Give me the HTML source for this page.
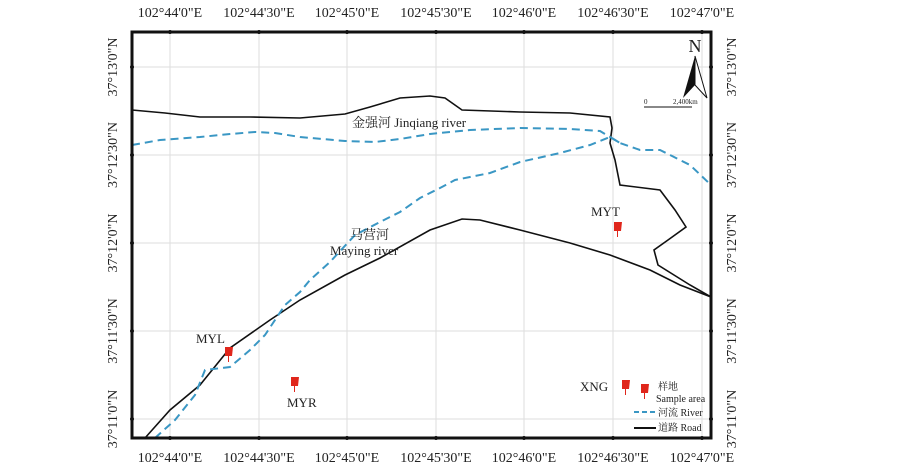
<!DOCTYPE html><html><head><meta charset="utf-8"><style>body{margin:0;background:#fff}svg{display:block}text{font-family:"Liberation Serif","Noto Serif CJK SC",serif;fill:#222}</style></head><body>
<svg width="900" height="465" viewBox="0 0 900 465" xmlns="http://www.w3.org/2000/svg">
<g stroke="#ddd" stroke-width="1">
<line x1="170" y1="32" x2="170" y2="438"/><line x1="259" y1="32" x2="259" y2="438"/><line x1="347" y1="32" x2="347" y2="438"/><line x1="436" y1="32" x2="436" y2="438"/><line x1="524" y1="32" x2="524" y2="438"/><line x1="613" y1="32" x2="613" y2="438"/><line x1="702" y1="32" x2="702" y2="438"/>
<line x1="132" y1="67" x2="711" y2="67"/><line x1="132" y1="155" x2="711" y2="155"/><line x1="132" y1="243" x2="711" y2="243"/><line x1="132" y1="331" x2="711" y2="331"/><line x1="132" y1="419" x2="711" y2="419"/>
</g>
<g font-size="14" text-anchor="middle">
<text x="170" y="17">102°44'0"E</text><text x="259" y="17">102°44'30"E</text><text x="347" y="17">102°45'0"E</text><text x="436" y="17">102°45'30"E</text><text x="524" y="17">102°46'0"E</text><text x="613" y="17">102°46'30"E</text><text x="702" y="17">102°47'0"E</text>
<text x="170" y="462">102°44'0"E</text><text x="259" y="462">102°44'30"E</text><text x="347" y="462">102°45'0"E</text><text x="436" y="462">102°45'30"E</text><text x="524" y="462">102°46'0"E</text><text x="613" y="462">102°46'30"E</text><text x="702" y="462">102°47'0"E</text>
</g>
<g font-size="14" text-anchor="middle">
<text transform="translate(117,67) rotate(-90)">37°13'0"N</text><text transform="translate(117,155) rotate(-90)">37°12'30"N</text><text transform="translate(117,243) rotate(-90)">37°12'0"N</text><text transform="translate(117,331) rotate(-90)">37°11'30"N</text><text transform="translate(117,419) rotate(-90)">37°11'0"N</text>
<text transform="translate(736,67) rotate(-90)">37°13'0"N</text><text transform="translate(736,155) rotate(-90)">37°12'30"N</text><text transform="translate(736,243) rotate(-90)">37°12'0"N</text><text transform="translate(736,331) rotate(-90)">37°11'30"N</text><text transform="translate(736,419) rotate(-90)">37°11'0"N</text>
</g>
<g fill="none" stroke="#111" stroke-width="1.6">
<polyline points="132,110 165,113 200,117 250,117 300,118 345,114 370,107 400,98 430,96 445,98 462,110 520,112 570,113 610,117 612,128 610,143 615,160 620,185 660,190 675,210 686,227 668,240 654,250 658,265 690,285 711,297"/>
<polyline points="145,438 170,410 200,385 230,348 270,320 300,300 345,275 380,258 430,230 462,219 480,220 520,230 570,243 610,255 650,270 680,285 711,297"/>
</g>
<g fill="none" stroke="#3a97c4" stroke-width="2" stroke-dasharray="8,5">
<polyline points="132,145 160,140 200,137 230,134 255,132 275,133 300,137 345,141 375,142 400,139 430,134 470,130 520,128 570,129 600,131 620,143 640,150 660,150 690,165 711,185"/>
<polyline points="155,438 175,420 195,395 205,370 230,367 250,350 265,335 285,305 300,292 310,280 330,262 355,235 380,222 400,212 420,198 440,188 455,180 490,173 520,162 560,153 590,145 610,137 620,143"/>
</g>
<rect x="132" y="32" width="579" height="406" fill="none" stroke="#111" stroke-width="3"/>
<g fill="#111"><circle cx="170" cy="32" r="2"/><circle cx="259" cy="32" r="2"/><circle cx="347" cy="32" r="2"/><circle cx="436" cy="32" r="2"/><circle cx="524" cy="32" r="2"/><circle cx="613" cy="32" r="2"/><circle cx="702" cy="32" r="2"/>
<circle cx="170" cy="438" r="2"/><circle cx="259" cy="438" r="2"/><circle cx="347" cy="438" r="2"/><circle cx="436" cy="438" r="2"/><circle cx="524" cy="438" r="2"/><circle cx="613" cy="438" r="2"/><circle cx="702" cy="438" r="2"/>
<circle cx="132" cy="67" r="2"/><circle cx="132" cy="155" r="2"/><circle cx="132" cy="243" r="2"/><circle cx="132" cy="331" r="2"/><circle cx="132" cy="419" r="2"/>
<circle cx="711" cy="67" r="2"/><circle cx="711" cy="155" r="2"/><circle cx="711" cy="243" r="2"/><circle cx="711" cy="331" r="2"/><circle cx="711" cy="419" r="2"/></g>
<text x="695" y="52" font-size="18" font-family="Liberation Sans" text-anchor="middle" fill="#111">N</text>
<polygon points="695,56 683,98 695,85" fill="#111"/><polygon points="695,56 707,98 695,85" fill="#fff" stroke="#111"/>
<line x1="644" y1="107" x2="692" y2="107" stroke="#111"/>
<text x="644" y="104" font-size="7">0</text><text x="673" y="104" font-size="7">2,400km</text>
<text x="352" y="127" font-size="13">金强河 Jinqiang river</text>
<text x="350" y="239" font-size="13">马营河</text><text x="330" y="255" font-size="13">Maying river</text>
<g font-size="13"><text x="591" y="216">MYT</text><text x="196" y="343">MYL</text><text x="287" y="407">MYR</text><text x="580" y="391">XNG</text></g>
<g fill="#e0261b">
<path d="M614,222h8l-1,9h-3v6h-1v-6h-3z"/><path d="M225,347h8l-1,9h-3v6h-1v-6h-3z"/><path d="M291,377h8l-1,9h-3v6h-1v-6h-3z"/><path d="M622,380h8l-1,9h-3v6h-1v-6h-3z"/><path d="M641,384h8l-1,9h-3v6h-1v-6h-3z"/>
</g>
<g font-size="10"><text x="658" y="390">样地</text><text x="656" y="402">Sample area</text><text x="658" y="416">河流 River</text><text x="658" y="431">道路 Road</text></g>
<line x1="634" y1="412" x2="656" y2="412" stroke="#3a97c4" stroke-width="2" stroke-dasharray="5,3"/>
<line x1="634" y1="428" x2="656" y2="428" stroke="#111" stroke-width="2"/>
</svg></body></html>
